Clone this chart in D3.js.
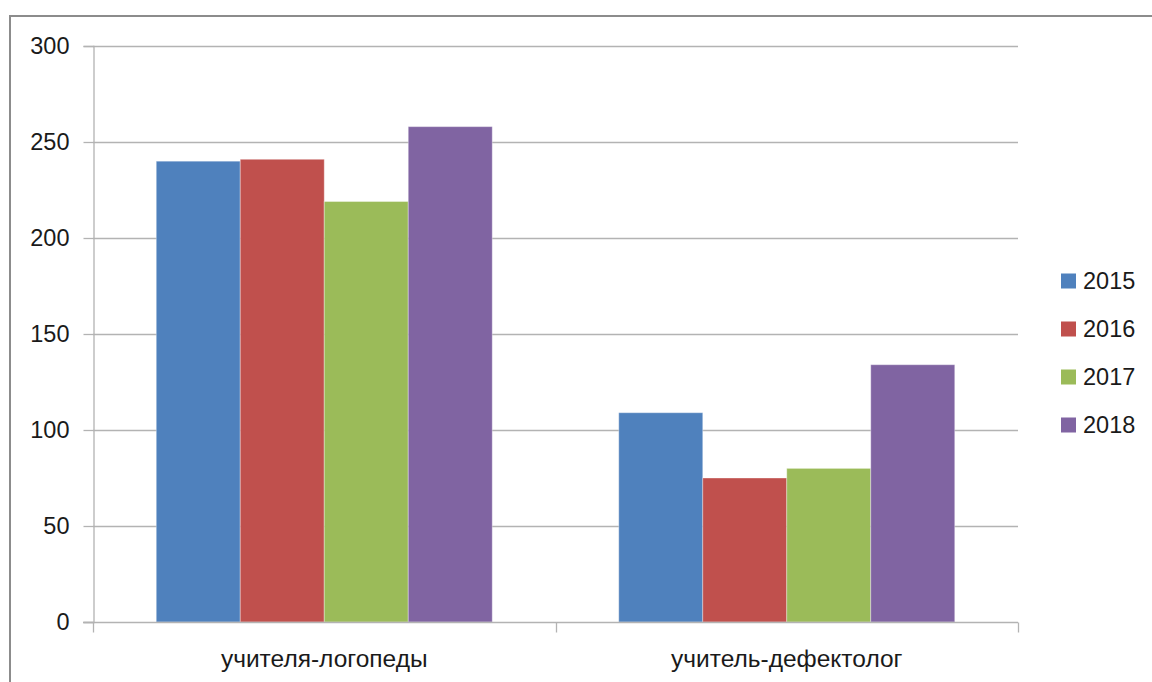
<!DOCTYPE html>
<html>
<head>
<meta charset="utf-8">
<script src="https://cdn.jsdelivr.net/npm/d3@7"></script>
<style>
  html, body { margin: 0; padding: 0; background: #fff; }
  svg { display: block; }
  text { font-family: "Liberation Sans", Arial, sans-serif; fill: #1a1a1a; }
</style>
</head>
<body>
<svg id="chart" width="1152" height="682"></svg>
<script>
const categories = ["учителя-логопеды", "учитель-дефектолог"];
const years = ["2015", "2016", "2017", "2018"];
const values2015 = [240, 109];
const values2016 = [241, 75];
const values2017 = [219, 80];
const values2018 = [258, 134];
const yTicks = [0, 50, 100, 150, 200, 250, 300];
const colors = ["#4F81BD", "#C0504D", "#9BBB59", "#8064A2"];

const seriesValues = [values2015, values2016, values2017, values2018];
const data = categories.map((c, ci) => ({
  category: c,
  bars: years.map((yr, yi) => ({ year: yr, value: seriesValues[yi][ci] }))
}));

const svg = d3.select("#chart");

// outer frame
svg.append("rect")
  .attr("x", 10).attr("y", 16)
  .attr("width", 1160).attr("height", 700)
  .attr("fill", "none")
  .attr("stroke", "#8c8c8c")
  .attr("stroke-width", 2);

const plotLeft = 93, plotRight = 1018, plotTop = 46, plotBottom = 622;

const y = d3.scaleLinear().domain([0, 300]).range([plotBottom, plotTop]);
const x0 = d3.scaleBand().domain(categories).range([plotLeft, plotRight]).paddingInner(0).paddingOuter(0);
const x1 = d3.scaleBand().domain(years).range([0, x0.bandwidth()]).paddingInner(0).paddingOuter(0.753);
const color = d3.scaleOrdinal().domain(years).range(colors);

const gridColor = "#b3b3b3";

// gridlines
svg.append("g")
  .selectAll("line")
  .data(yTicks.filter(t => t > 0))
  .join("line")
  .attr("x1", plotLeft).attr("x2", plotRight)
  .attr("y1", d => Math.round(y(d)) + 0.5).attr("y2", d => Math.round(y(d)) + 0.5)
  .attr("stroke", gridColor).attr("stroke-width", 1.3);

// y axis
const yAxis = svg.append("g")
  .attr("transform", `translate(${plotLeft + 0.5},0)`)
  .call(d3.axisLeft(y).tickValues(yTicks).tickSize(10).tickPadding(14));
yAxis.select(".domain").attr("stroke", gridColor).attr("stroke-width", 1.3);
yAxis.selectAll(".tick line").attr("stroke", gridColor).attr("stroke-width", 1.3);
yAxis.selectAll(".tick text")
  .attr("font-size", 23.5)
  .attr("font-family", "Liberation Sans, Arial, sans-serif")
  .attr("fill", "#111");

// bars
const groups = svg.append("g")
  .selectAll("g")
  .data(data)
  .join("g")
  .attr("transform", d => `translate(${x0(d.category)},0)`);

groups.selectAll("rect")
  .data(d => d.bars)
  .join("rect")
  .attr("x", d => x1(d.year))
  .attr("y", d => y(d.value))
  .attr("width", x1.bandwidth())
  .attr("height", d => y(0) - y(d.value))
  .attr("fill", d => color(d.year))
  .attr("stroke", "rgba(255,255,255,0.35)")
  .attr("stroke-width", 1);

// x axis
const xAxis = svg.append("g")
  .attr("transform", `translate(0,${plotBottom + 0.5})`)
  .call(d3.axisBottom(x0).tickSize(0).tickPadding(27));
xAxis.select(".domain").remove();
xAxis.append("line")
  .attr("x1", plotLeft - 10).attr("x2", plotRight)
  .attr("y1", 0).attr("y2", 0)
  .attr("stroke", gridColor).attr("stroke-width", 1.3);
// category boundary ticks
const boundaries = categories.map(c => x0(c)).concat([x0(categories[categories.length - 1]) + x0.bandwidth()]);
xAxis.selectAll(".bound")
  .data(boundaries)
  .join("line")
  .attr("class", "bound")
  .attr("x1", d => Math.round(d) + 0.5).attr("x2", d => Math.round(d) + 0.5)
  .attr("y1", 0).attr("y2", 10)
  .attr("stroke", gridColor).attr("stroke-width", 1.3);
xAxis.selectAll(".tick text")
  .attr("font-size", 24.5)
  .attr("font-family", "Liberation Sans, Arial, sans-serif")
  .attr("fill", "#111");

// legend
const legendY = d3.scalePoint().domain(years).range([281, 425]);
const legend = svg.append("g")
  .selectAll("g")
  .data(years)
  .join("g")
  .attr("transform", d => `translate(1061,${legendY(d)})`);
legend.append("rect")
  .attr("x", 0).attr("y", -7.5)
  .attr("width", 15).attr("height", 15)
  .attr("fill", d => color(d));
legend.append("text")
  .attr("x", 22).attr("y", 0)
  .attr("dy", "0.36em")
  .attr("font-size", 23.5)
  .attr("fill", "#111")
  .text(d => d);
</script>
</body>
</html>
